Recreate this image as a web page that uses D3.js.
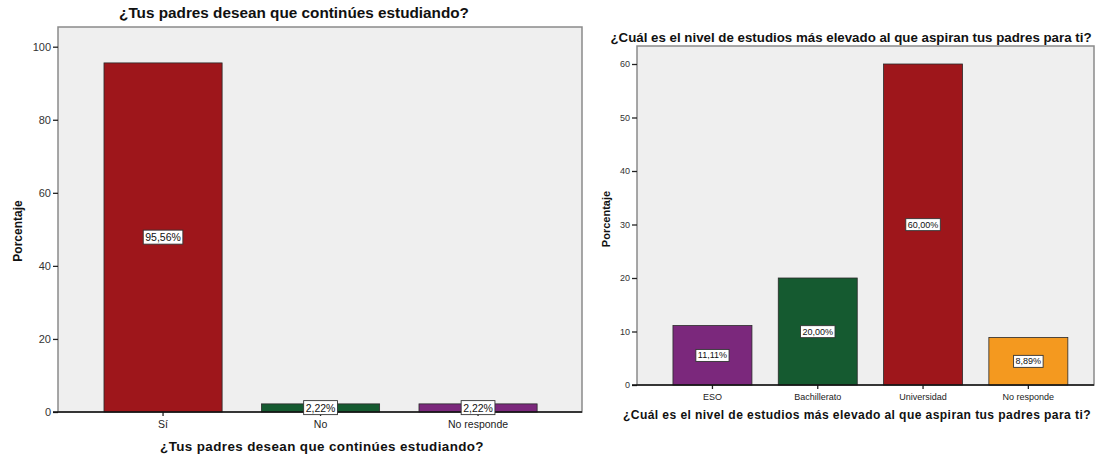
<!DOCTYPE html>
<html>
<head>
<meta charset="utf-8">
<script src="https://cdn.jsdelivr.net/npm/d3@7"></script>
<style>
  html, body { margin: 0; padding: 0; background: #fff; }
  svg { display: block; font-family: "Liberation Sans", Arial, sans-serif; }
</style>
</head>
<body>
<svg id="chart" width="1097" height="458"></svg>
<script>
// Chart 1: ¿Tus padres desean que continúes estudiando?
const wishCategories = ["Sí", "No", "No responde"];
const wishValues = [95.56, 2.22, 2.22];
const wishColors = ["#9e161b", "#155a30", "#7b287c"];
const wishTicks = [0, 20, 40, 60, 80, 100];
const wishTitle = "¿Tus padres desean que continúes estudiando?";

// Chart 2: nivel de estudios al que aspiran los padres
const levelCategories = ["ESO", "Bachillerato", "Universidad", "No responde"];
const levelValues = [11.11, 20.00, 60.00, 8.89];
const levelColors = ["#7b287c", "#155a30", "#9e161b", "#f4991f"];
const levelTicks = [0, 10, 20, 30, 40, 50, 60];
const levelTitle = "¿Cuál es el nivel de estudios más elevado al que aspiran tus padres para ti?";

const yLabel = "Porcentaje";
const fmt = v => d3.format(".2f")(v).replace(".", ",") + "%";

const svg = d3.select("#chart");

function drawChart(cfg) {
  const g = svg.append("g");
  const { frame } = cfg;

  // plot background with frame
  g.append("rect")
    .attr("x", frame.x0).attr("y", frame.y0)
    .attr("width", frame.x1 - frame.x0).attr("height", frame.y1 - frame.y0)
    .attr("fill", "#efefef").attr("stroke", "#8a8a8a").attr("stroke-width", 1.5);

  const x = d3.scaleBand()
    .domain(cfg.categories)
    .range(cfg.bandRange)
    .paddingInner(0.25).paddingOuter(0.125);

  const y = d3.scaleLinear()
    .domain([0, cfg.ticks[cfg.ticks.length - 1]])
    .range([frame.y1, cfg.yTop]);

  // bars
  g.selectAll("rect.bar")
    .data(cfg.values)
    .join("rect")
    .attr("class", "bar")
    .attr("x", (d, i) => x(cfg.categories[i]))
    .attr("y", d => y(d))
    .attr("width", x.bandwidth())
    .attr("height", d => y(0) - y(d))
    .attr("fill", (d, i) => cfg.colors[i])
    .attr("stroke", "#2a2a2a").attr("stroke-width", 0.8);

  // y axis
  const yAxis = g.append("g")
    .attr("transform", `translate(${frame.x0},0)`)
    .call(d3.axisLeft(y).tickValues(cfg.ticks).tickSize(5).tickSizeOuter(0).tickPadding(2));
  yAxis.select(".domain").remove();
  yAxis.selectAll("line").attr("stroke", "#222").attr("stroke-width", 1.3);
  yAxis.selectAll("text").attr("fill", "#333").style("font-size", cfg.tickFont + "px");

  // x axis
  const xAxis = g.append("g")
    .attr("transform", `translate(0,${frame.y1})`)
    .call(d3.axisBottom(x).tickSize(4).tickSizeOuter(0).tickPadding(cfg.catPad));
  xAxis.select(".domain").remove();
  xAxis.selectAll("line").attr("stroke", "#222").attr("stroke-width", 1.3);
  xAxis.selectAll("text").attr("fill", "#222").style("font-size", cfg.catFont + "px");

  // baseline
  g.append("line")
    .attr("x1", frame.x0 - 5).attr("x2", frame.x1)
    .attr("y1", frame.y1).attr("y2", frame.y1)
    .attr("stroke", "#111").attr("stroke-width", 1.3);

  // value labels in boxes at bar middles
  const lab = g.selectAll("g.vlab")
    .data(cfg.values)
    .join("g")
    .attr("class", "vlab")
    .attr("transform", (d, i) =>
      `translate(${x(cfg.categories[i]) + x.bandwidth() / 2},${y(d / 2)})`);
  lab.append("text")
    .attr("text-anchor", "middle").attr("dy", "0.35em")
    .style("font-size", cfg.valFont + "px").attr("fill", "#111")
    .text(d => fmt(d));
  lab.each(function () {
    const gg = d3.select(this);
    const bb = gg.select("text").node().getBBox();
    gg.insert("rect", "text")
      .attr("x", bb.x - 2).attr("y", bb.y - 1)
      .attr("width", bb.width + 4).attr("height", bb.height + 2)
      .attr("fill", "#fff").attr("stroke", "#333").attr("stroke-width", 0.9);
  });

  // title
  g.append("text")
    .attr("x", cfg.titleX).attr("y", cfg.titleY)
    .attr("text-anchor", "middle")
    .style("font-size", cfg.titleFont + "px").style("font-weight", "bold")
    .attr("fill", "#111")
    .text(cfg.title);

  // x axis title
  g.append("text")
    .attr("x", cfg.xTitleX).attr("y", cfg.xTitleY)
    .attr("text-anchor", "middle")
    .style("font-size", cfg.xTitleFont + "px").style("font-weight", "bold")
    .style("letter-spacing", "0.4px")
    .attr("fill", "#111")
    .text(cfg.title);

  // y axis title
  g.append("text")
    .attr("transform", `translate(${cfg.yTitleX},${cfg.yTitleY}) rotate(-90)`)
    .attr("text-anchor", "middle")
    .style("font-size", cfg.yTitleFont + "px").style("font-weight", "bold")
    .attr("fill", "#111")
    .text(yLabel);
}

drawChart({
  categories: wishCategories, values: wishValues, colors: wishColors, ticks: wishTicks,
  title: wishTitle,
  frame: { x0: 58, x1: 582, y0: 27, y1: 412 },
  yTop: 46.7,
  bandRange: [84.3, 556.8],
  tickFont: 11, catFont: 10.5, valFont: 10.5, catPad: 5,
  titleX: 294, titleY: 18, titleFont: 15.3,
  xTitleX: 322, xTitleY: 451, xTitleFont: 13.4,
  yTitleX: 22, yTitleY: 231, yTitleFont: 12
});

drawChart({
  categories: levelCategories, values: levelValues, colors: levelColors, ticks: levelTicks,
  title: levelTitle,
  frame: { x0: 637, x1: 1094, y0: 46, y1: 385 },
  yTop: 64,
  bandRange: [659.8, 1081],
  tickFont: 9, catFont: 9, valFont: 9, catPad: 5,
  titleX: 851, titleY: 42, titleFont: 13.3,
  xTitleX: 857, xTitleY: 419, xTitleFont: 12.1,
  yTitleX: 610, yTitleY: 219, yTitleFont: 11
});
</script>
</body>
</html>
